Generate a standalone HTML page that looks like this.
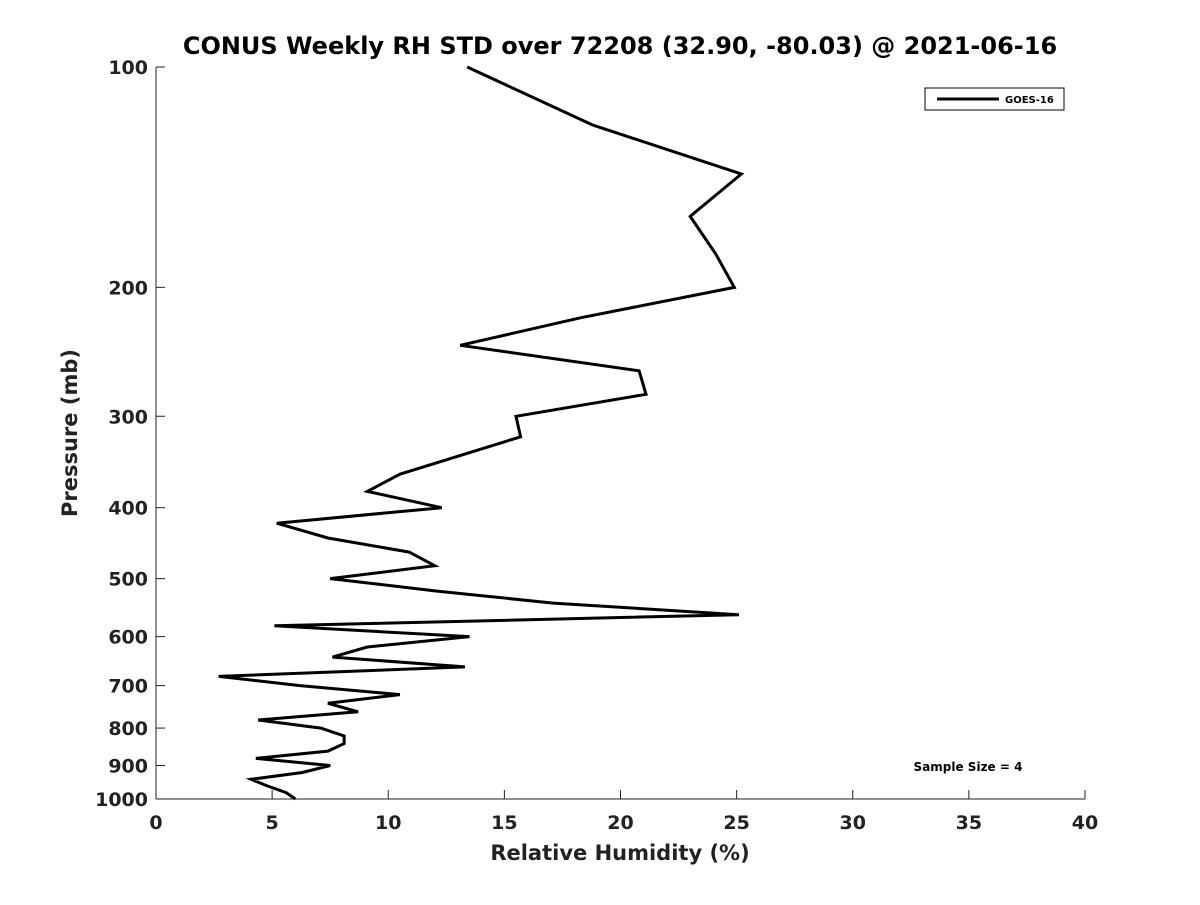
<!DOCTYPE html>
<html><head><meta charset="utf-8"><style>
body{margin:0;background:#fff;font-family:"Liberation Sans","DejaVu Sans",sans-serif}
</style></head><body>
<svg id="chart" width="1200" height="900" xmlns="http://www.w3.org/2000/svg" font-family="'DejaVu Sans','Liberation Sans',sans-serif">
<rect width="1200" height="900" fill="#fff"/>
<text x="620" y="54" text-anchor="middle" font-size="24" font-weight="bold">CONUS Weekly RH STD over 72208 (32.90, -80.03) @ 2021-06-16</text>
<g id="axes"></g>
<polyline id="series" fill="none" stroke="#000" stroke-width="3"/>
<g>
<rect x="925" y="88" width="139" height="22" fill="#fff" stroke="#000" stroke-width="1"/>
<line x1="937" y1="99" x2="999" y2="99" stroke="#000" stroke-width="3"/>
<text x="1005" y="103" font-size="10" font-weight="bold">GOES-16</text>
</g>
<text x="968" y="771" text-anchor="middle" font-size="12" font-weight="bold">Sample Size = 4</text>
<text x="620" y="860" text-anchor="middle" font-size="21" font-weight="bold" fill="#222">Relative Humidity (%)</text>
<text transform="translate(77,433) rotate(-90)" text-anchor="middle" font-size="21" font-weight="bold" fill="#222">Pressure (mb)</text>
</svg>
<script>
const pressures=[100,120,140,160,180,200,220,240,260,280,300,320,360,380,400,420,440,460,480,500,520,540,560,580,600,620,640,660,680,700,720,740,760,780,800,820,840,860,880,900,920,940,960,980,1000];
const rhStd=[13.4,18.8,25.2,23.0,24.1,24.9,18.3,13.1,20.8,21.1,15.5,15.7,10.5,9.1,12.3,5.2,7.4,10.9,12.0,7.5,12.1,17.1,25.1,5.1,13.5,9.1,7.6,13.3,2.7,6.2,10.5,7.4,8.7,4.4,7.1,8.1,8.1,7.4,4.3,7.5,6.3,4.1,4.8,5.6,6.0];
const xTicks=[0,5,10,15,20,25,30,35,40];
const yTicks=[100,200,300,400,500,600,700,800,900,1000];
const X0=156,X1=1085,Y0=67,Y1=799;
const xs=v=>X0+(v-0)/(40-0)*(X1-X0);
const ys=p=>Y0+Math.log10(p/100)*(Y1-Y0);
const NS="http://www.w3.org/2000/svg";
const ax=document.getElementById('axes');
function mk(t,a){const e=document.createElementNS(NS,t);for(const k in a)e.setAttribute(k,a[k]);return e;}
const xl=mk('line',{x1:X0,y1:Y1,x2:X1,y2:Y1,stroke:'#222','stroke-width':1});


ax.appendChild(xl);
const yl=mk('line',{x1:X0,y1:Y0,x2:X0,y2:Y1,stroke:'#222','stroke-width':1});


ax.appendChild(yl);
xTicks.forEach(v=>{
 const x=xs(v);
 const t=mk('line',{x1:x,y1:Y1,x2:x,y2:Y1-9,stroke:'#222'});
 
 
 ax.appendChild(t);
 const l=mk('text',{x:x,y:Y1+30,'text-anchor':'middle','font-size':19,'font-weight':'bold',fill:'#222'});
 l.textContent=v;
 
 
 ax.appendChild(l);
});
yTicks.forEach(p=>{
 const y=ys(p);
 const t=mk('line',{x1:X0,y1:y,x2:X0+9,y2:y,stroke:'#222'});
 
 
 ax.appendChild(t);
 const l=mk('text',{x:X0-8,y:y+7,'text-anchor':'end','font-size':19,'font-weight':'bold',fill:'#222'});
 l.textContent=p;
 
 
 ax.appendChild(l);
});
document.getElementById('series').setAttribute('points',pressures.map((p,i)=>xs(rhStd[i]).toFixed(1)+','+ys(p).toFixed(1)).join(' '));
</script>
</body></html>
